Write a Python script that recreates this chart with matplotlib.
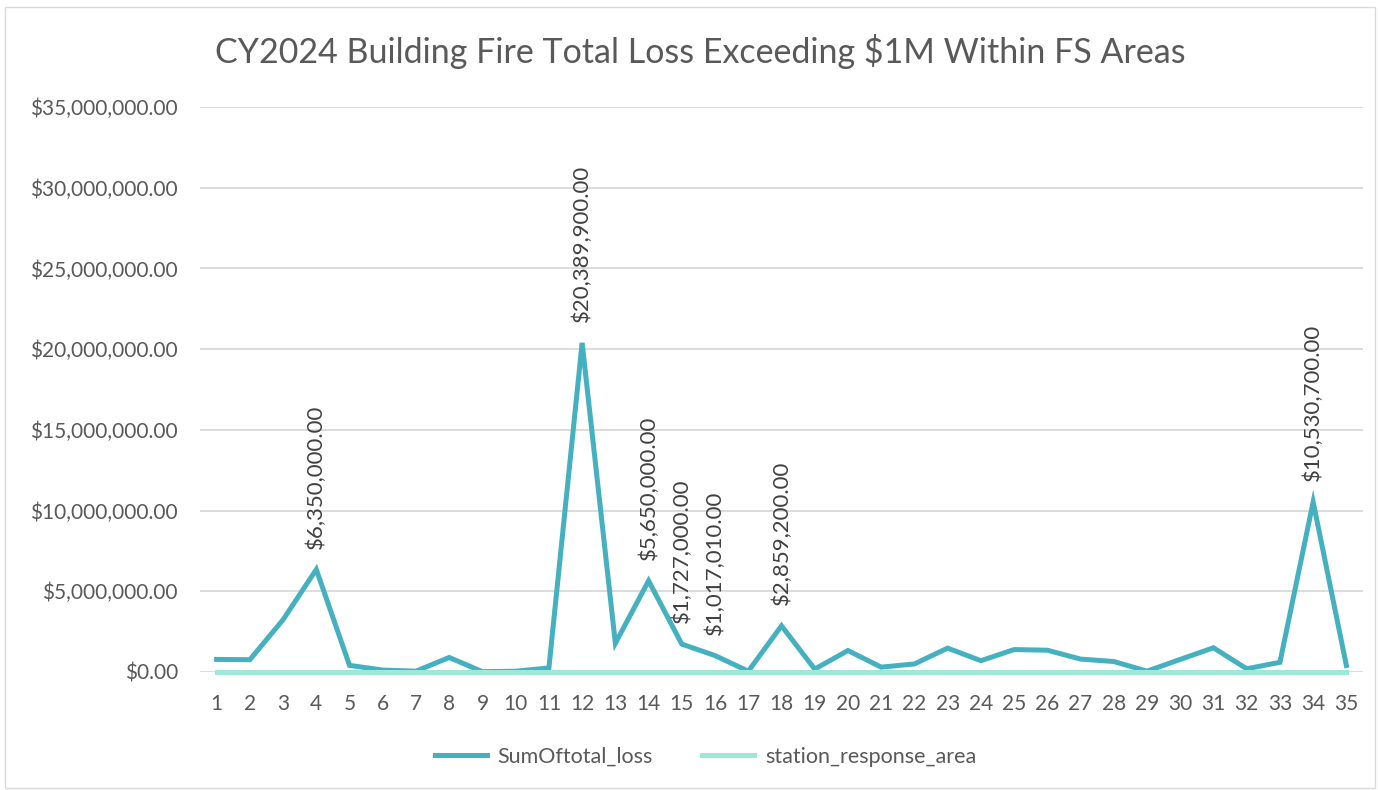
import matplotlib
matplotlib.use("Agg")
import matplotlib.pyplot as plt
from matplotlib.patches import Rectangle
from matplotlib.ticker import FuncFormatter

categories = list(range(1, 36))
sum_of_total_loss = [780000, 760000, 3240000, 6350000, 410000, 120000, 50000, 900000, 20000, 50000,
                     250000, 20389900, 1780000, 5650000, 1727000, 1017010, 50000, 2859200, 180000, 1330000,
                     300000, 500000, 1480000, 700000, 1390000, 1350000, 800000, 650000, 50000, 780000,
                     1500000, 200000, 600000, 10530700, 400000]
station_response_area = [0] * 35
labeled_points = [4, 12, 14, 15, 16, 18, 34]
title = "CY2024 Building Fire Total Loss Exceeding $1M Within FS Areas"

plt.rcParams['font.family'] = ['Lato', 'DejaVu Sans']

fig = plt.figure(figsize=(13.78, 7.90), dpi=100)
ax = fig.add_axes([200/1378, (790-672)/790, (1363-200)/1378, (672-107)/790])

c_main = "#45B0C0"
c_sec = "#9DE8D6"
ax.plot(categories, sum_of_total_loss, color=c_main, lw=3.6, solid_joinstyle='miter', zorder=3,
        label="SumOftotal_loss", clip_on=False)
ax.plot(categories, station_response_area, color=c_sec, lw=3.6, zorder=4,
        label="station_response_area", clip_on=False)

for i in labeled_points:
    v = sum_of_total_loss[i-1]
    ax.annotate(f"${v:,.2f}", (i, v), xytext=(0, 15), textcoords="offset points",
                rotation=90, ha="center", va="bottom", fontsize=16, color="#404040")

ax.set_xlim(0.5, 35.5)
ax.set_ylim(0, 35000000)
ax.set_yticks(range(0, 35000001, 5000000))
ax.yaxis.set_major_formatter(FuncFormatter(lambda v, p: f"${v:,.2f}"))
ax.set_xticks(categories)
ax.grid(axis='y', color="#D9D9D9", lw=1.3, zorder=0)
ax.set_axisbelow(True)
for s in ax.spines.values():
    s.set_visible(False)
ax.tick_params(length=0, labelsize=15, colors="#595959")
ax.tick_params(axis='x', pad=16)
ax.tick_params(axis='y', pad=16)

fig.text(0.508, 0.935, title, ha="center", va="center", fontsize=24.5, color="#595959")

leg = fig.legend(loc="center", bbox_to_anchor=(0.512, 0.042), ncol=2, frameon=False,
                 fontsize=15.5, handlelength=2.4, handletextpad=0.5, columnspacing=2.3,
                 labelcolor="#595959")

fig.add_artist(Rectangle((5/1378, 2/790), 1370/1378, 781/790, transform=fig.transFigure,
                         fill=False, edgecolor="#D9D9D9", lw=1))

fig.savefig("out.png", dpi=100)
